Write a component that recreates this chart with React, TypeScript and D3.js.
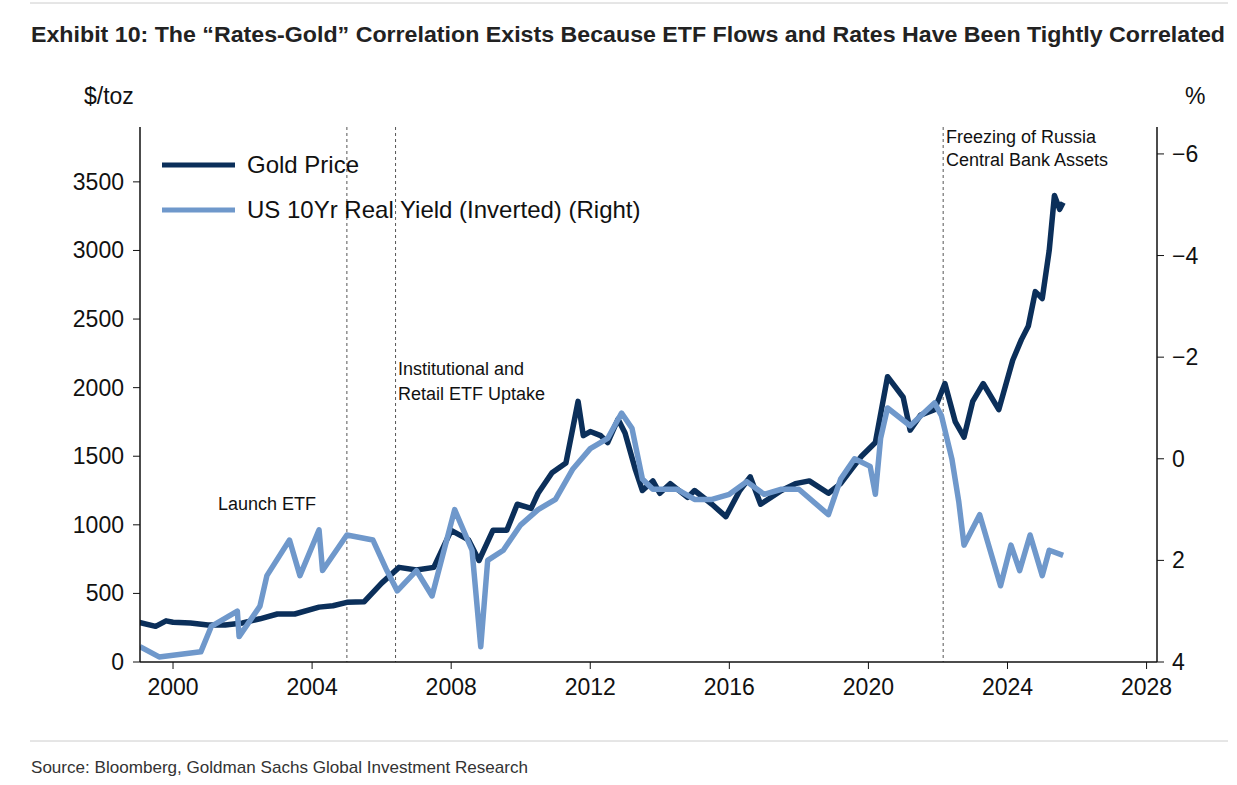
import * as d3 from "d3"

const goldDates = [1999.0,1999.5,1999.8,2000,2000.5,2001,2001.5,2002,2002.5,2003,2003.5,2004.2,2004.6,2005,2005.5,2006.0,2006.5,2007,2007.5,2008,2008.5,2008.8,2009.2,2009.6,2009.9,2010.3,2010.5,2010.9,2011.3,2011.65,2011.8,2012,2012.3,2012.5,2012.8,2013.0,2013.3,2013.5,2013.8,2014,2014.3,2014.8,2015,2015.5,2015.9,2016.3,2016.6,2016.9,2017.5,2017.9,2018.3,2018.85,2019.2,2019.5,2019.8,2020.2,2020.55,2021.0,2021.2,2021.5,2021.9,2022.2,2022.5,2022.75,2023.0,2023.3,2023.75,2024.15,2024.4,2024.6,2024.8,2025.0,2025.2,2025.35,2025.5,2025.6]
const goldPrice = [290,260,300,290,285,270,270,285,315,350,350,400,410,435,440,575,690,670,690,960,890,740,960,960,1150,1120,1230,1380,1450,1900,1650,1680,1650,1600,1770,1670,1400,1250,1320,1230,1300,1200,1250,1150,1060,1250,1350,1150,1250,1300,1320,1230,1300,1400,1500,1600,2080,1930,1690,1800,1840,2030,1750,1640,1900,2030,1840,2200,2350,2450,2700,2650,3000,3400,3300,3350]

const yieldDates = [1999.05,1999.6,2000.8,2001.1,2001.85,2001.9,2002.5,2002.7,2003.35,2003.65,2004.2,2004.3,2005.0,2005.75,2006.15,2006.45,2007.0,2007.45,2008.1,2008.6,2008.85,2009.05,2009.5,2010.0,2010.5,2011,2011.5,2012,2012.5,2012.9,2013.2,2013.5,2013.8,2014.5,2015,2015.5,2016,2016.5,2017,2017.5,2018,2018.85,2019.2,2019.6,2020.05,2020.2,2020.35,2020.55,2021.2,2021.9,2022.1,2022.4,2022.6,2022.75,2023.2,2023.8,2024.1,2024.35,2024.65,2025.0,2025.2,2025.6]
const realYield = [3.7,3.9,3.8,3.3,3.0,3.5,2.9,2.3,1.6,2.3,1.4,2.2,1.5,1.6,2.2,2.6,2.2,2.7,1.0,1.8,3.7,2.0,1.8,1.3,1.0,0.8,0.2,-0.2,-0.4,-0.9,-0.6,0.4,0.6,0.6,0.8,0.8,0.7,0.45,0.7,0.6,0.6,1.1,0.4,0.0,0.15,0.7,-0.4,-1.0,-0.65,-1.1,-0.85,0.0,0.85,1.7,1.1,2.5,1.7,2.2,1.5,2.3,1.8,1.9]

const xTicks = [2000,2004,2008,2012,2016,2020,2024,2028]
const leftTicks = [0,500,1000,1500,2000,2500,3000,3500]
const rightTicks = [-6,-4,-2,0,2,4]
const eventLines = [2005.0,2006.4,2022.15]

const GOLD = "#0b2f5a"
const YIELD = "#6f98cb"
const FONT = "'Liberation Sans', Arial, sans-serif"

export default function App() {
  const x = d3.scaleLinear().domain([1999.05, 2028.3]).range([140, 1157])
  const yL = d3.scaleLinear().domain([0, 3900]).range([662, 127])
  const yR = d3.scaleLinear().domain([4, -6.53]).range([662, 127])
  const gLine = d3.line<number>().x((_, i) => x(goldDates[i])).y(d => yL(d))
  const rLine = d3.line<number>().x((_, i) => x(yieldDates[i])).y(d => yR(d))
  const fmt = (v: number) => (v < 0 ? "\u2212" + Math.abs(v) : String(v))

  return (
    <svg width={1237} height={785} style={{ position: "absolute", left: 0, top: 0, background: "#fff" }}>
      <line x1={30} x2={1228} y1={3} y2={3} stroke="#ccc" />
      <text x={31} y={42} fontFamily="'Liberation Sans Narrow', 'Liberation Sans', Arial" fontWeight="bold" fontSize={22} textLength={1194} lengthAdjust="spacingAndGlyphs" fill="#222">
        Exhibit 10: The “Rates-Gold” Correlation Exists Because ETF Flows and Rates Have Been Tightly Correlated
      </text>

      <g fontFamily={FONT} fill="#111">
        <text x={84} y={104} fontSize={23}>$/toz</text>
        <text x={1185} y={104} fontSize={23}>%</text>

        {eventLines.map(d => (
          <line key={d} x1={x(d)} x2={x(d)} y1={127} y2={662} stroke="#555" strokeDasharray="3,3" strokeWidth={1} />
        ))}

        <clipPath id="plot"><rect x={140} y={127} width={1017} height={535} /></clipPath>
        <g clipPath="url(#plot)">
          <path d={gLine(goldPrice) ?? ""} fill="none" stroke={GOLD} strokeWidth={5.5} strokeLinejoin="round" />
          <path d={rLine(realYield) ?? ""} fill="none" stroke={YIELD} strokeWidth={5.5} strokeLinejoin="round" />
        </g>

        <line x1={140} x2={140} y1={127} y2={662} stroke="#111" strokeWidth={1.5} />
        <line x1={1157} x2={1157} y1={127} y2={662} stroke="#111" strokeWidth={1.5} />
        <line x1={140} x2={1157} y1={662} y2={662} stroke="#111" strokeWidth={1.5} />

        {leftTicks.map(t => (
          <g key={t}>
            <line x1={133} x2={140} y1={yL(t)} y2={yL(t)} stroke="#111" />
            <text x={124} y={yL(t) + 8} fontSize={23} textAnchor="end">{t}</text>
          </g>
        ))}
        {rightTicks.map(t => (
          <g key={t}>
            <line x1={1157} x2={1164} y1={yR(t)} y2={yR(t)} stroke="#111" />
            <text x={1172} y={yR(t) + 8} fontSize={23}>{fmt(t)}</text>
          </g>
        ))}
        {xTicks.map(t => (
          <g key={t}>
            <line x1={x(t)} x2={x(t)} y1={662} y2={669} stroke="#111" />
            <text x={x(t)} y={695} fontSize={23} textAnchor="middle">{t}</text>
          </g>
        ))}

        <line x1={162} x2={235} y1={165} y2={165} stroke={GOLD} strokeWidth={5} />
        <text x={247} y={173} fontSize={24}>Gold Price</text>
        <line x1={162} x2={235} y1={210} y2={210} stroke={YIELD} strokeWidth={5} />
        <text x={247} y={218} fontSize={24}>US 10Yr Real Yield (Inverted) (Right)</text>

        <text x={218} y={510} fontSize={18}>Launch ETF</text>
        <text x={398} y={375} fontSize={18}>Institutional and</text>
        <text x={398} y={400} fontSize={18}>Retail ETF Uptake</text>
        <text x={946} y={143} fontSize={18}>Freezing of Russia</text>
        <text x={946} y={166} fontSize={18}>Central Bank Assets</text>
      </g>

      <line x1={30} x2={1228} y1={741} y2={741} stroke="#ccc" />
      <text x={31} y={773} fontFamily="'Liberation Sans Narrow', 'Liberation Sans', Arial" fontSize={17} textLength={497} lengthAdjust="spacingAndGlyphs" fill="#333">
        Source: Bloomberg, Goldman Sachs Global Investment Research
      </text>
    </svg>
  )
}
